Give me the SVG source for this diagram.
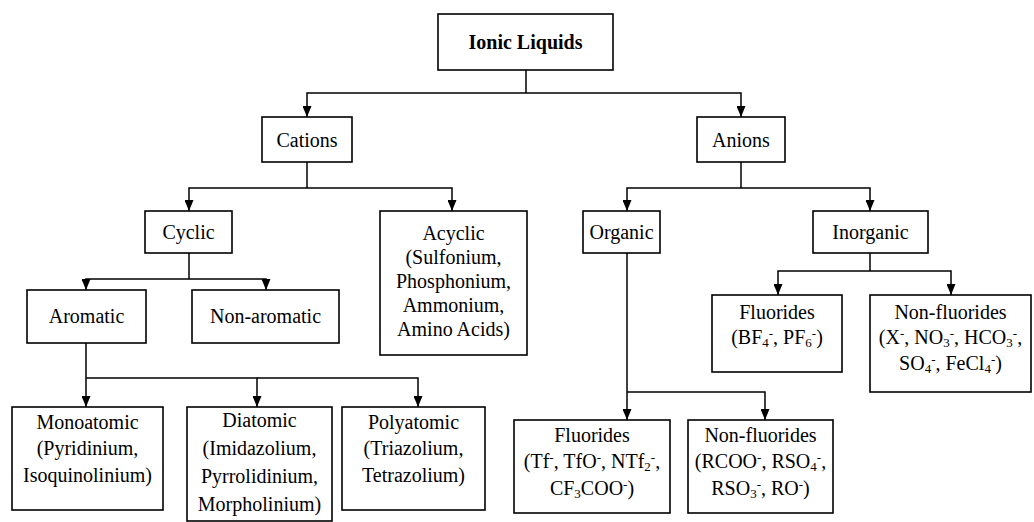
<svg xmlns="http://www.w3.org/2000/svg" width="1034" height="522" viewBox="0 0 1034 522">
<defs>
<marker id="arr" viewBox="0 0 11 9" markerWidth="11" markerHeight="9" refX="11" refY="4.5" orient="auto" markerUnits="userSpaceOnUse">
<path d="M0,0 L11,4.5 L0,9 z" fill="#000"/>
</marker>
<style>
rect{fill:#fff;stroke:#000;stroke-width:1.6}
text{font-family:"Liberation Serif","Times New Roman",serif;font-size:20px;fill:#000;text-anchor:middle}
.b{font-weight:bold}
.s{font-size:13px;baseline-shift:-3px}
.p{font-size:13px;baseline-shift:6px}
#connectors path{fill:none;stroke:#000;stroke-width:1.5}
.a{marker-end:url(#arr)}
</style>
</defs>
<rect x="0" y="0" width="1034" height="522" style="fill:#fff;stroke:none"/>
<g id="connectors">
<path d="M526,70 V93"/>
<path class="a" d="M526,93 H307 V117"/>
<path class="a" d="M526,93 H741 V117"/>
<path d="M307,162 V188"/>
<path class="a" d="M307,188 H189 V211"/>
<path class="a" d="M307,188 H452 V211"/>
<path d="M189,253 V279"/>
<path class="a" d="M189,279 H86 V290"/>
<path class="a" d="M189,279 H266 V290"/>
<path class="a" d="M86,343 V407"/>
<path class="a" d="M86,378 H257 V407"/>
<path class="a" d="M257,378 H418 V407"/>
<path d="M741,162 V188"/>
<path class="a" d="M741,188 H627 V211"/>
<path class="a" d="M741,188 H870 V211"/>
<path d="M870,253 V271"/>
<path class="a" d="M870,271 H778 V295"/>
<path class="a" d="M870,271 H951 V295"/>
<path d="M627,253 V392"/>
<path class="a" d="M627,392 V420"/>
<path class="a" d="M627,392 H765 V420"/>
</g>
<g id="ionic-liquids">
<rect x="438" y="14" width="175" height="56"/>
<text class="b" x="525.5" y="49">Ionic Liquids</text>
</g>
<g id="cations">
<rect x="262" y="117" width="90" height="45"/>
<text x="307" y="147">Cations</text>
</g>
<g id="anions">
<rect x="697" y="117" width="88" height="45"/>
<text x="741" y="147">Anions</text>
</g>
<g id="cyclic">
<rect x="145" y="211" width="87" height="42"/>
<text x="188.5" y="239">Cyclic</text>
</g>
<g id="acyclic">
<rect x="380" y="211" width="147" height="144"/>
<text x="453.5" y="240">Acyclic</text>
<text x="453.5" y="264">(Sulfonium,</text>
<text x="453.5" y="288">Phosphonium,</text>
<text x="453.5" y="312">Ammonium,</text>
<text x="453.5" y="336">Amino Acids)</text>
</g>
<g id="aromatic">
<rect x="27" y="290" width="119" height="53"/>
<text x="86.5" y="323">Aromatic</text>
</g>
<g id="non-aromatic">
<rect x="192" y="290" width="147" height="53"/>
<text x="265.5" y="323">Non-aromatic</text>
</g>
<g id="monoatomic">
<rect x="12" y="407" width="151" height="103"/>
<text x="87.5" y="429">Monoatomic</text>
<text x="87.5" y="455">(Pyridinium,</text>
<text x="87.5" y="482">Isoquinolinium)</text>
</g>
<g id="diatomic">
<rect x="187" y="407" width="145" height="114"/>
<text x="259.5" y="427">Diatomic</text>
<text x="259.5" y="455">(Imidazolium,</text>
<text x="259.5" y="483">Pyrrolidinium,</text>
<text x="259.5" y="511">Morpholinium)</text>
</g>
<g id="polyatomic">
<rect x="342" y="407" width="143" height="103"/>
<text x="413.5" y="429">Polyatomic</text>
<text x="413.5" y="455">(Triazolium,</text>
<text x="413.5" y="482">Tetrazolium)</text>
</g>
<g id="organic">
<rect x="583" y="211" width="77" height="42"/>
<text x="621.5" y="239">Organic</text>
</g>
<g id="inorganic">
<rect x="813" y="211" width="115" height="42"/>
<text x="870.5" y="239">Inorganic</text>
</g>
<g id="inorganic-fluorides">
<rect x="712" y="295" width="130" height="77"/>
<text x="777" y="319">Fluorides</text>
<text x="777" y="344">(BF<tspan class="s">4</tspan><tspan class="p">-</tspan>, PF<tspan class="s">6</tspan><tspan class="p">-</tspan>)</text>
</g>
<g id="inorganic-non-fluorides">
<rect x="870" y="295" width="161" height="97"/>
<text x="950.5" y="319">Non-fluorides</text>
<text x="950.5" y="344">(X<tspan class="p">-</tspan>, NO<tspan class="s">3</tspan><tspan class="p">-</tspan>, HCO<tspan class="s">3</tspan><tspan class="p">-</tspan>,</text>
<text x="950.5" y="370">SO<tspan class="s">4</tspan><tspan class="p">-</tspan>, FeCl<tspan class="s">4</tspan><tspan class="p">-</tspan>)</text>
</g>
<g id="organic-fluorides">
<rect x="514" y="420" width="156" height="93"/>
<text x="592" y="442">Fluorides</text>
<text x="592" y="468">(Tf<tspan class="p">-</tspan>, TfO<tspan class="p">-</tspan>, NTf<tspan class="s">2</tspan><tspan class="p">-</tspan>,</text>
<text x="592" y="495">CF<tspan class="s">3</tspan>COO<tspan class="p">-</tspan>)</text>
</g>
<g id="organic-non-fluorides">
<rect x="688" y="420" width="145" height="93"/>
<text x="760.5" y="442">Non-fluorides</text>
<text x="760.5" y="468">(RCOO<tspan class="p">-</tspan>, RSO<tspan class="s">4</tspan><tspan class="p">-</tspan>,</text>
<text x="760.5" y="495">RSO<tspan class="s">3</tspan><tspan class="p">-</tspan>, RO<tspan class="p">-</tspan>)</text>
</g>
</svg>
